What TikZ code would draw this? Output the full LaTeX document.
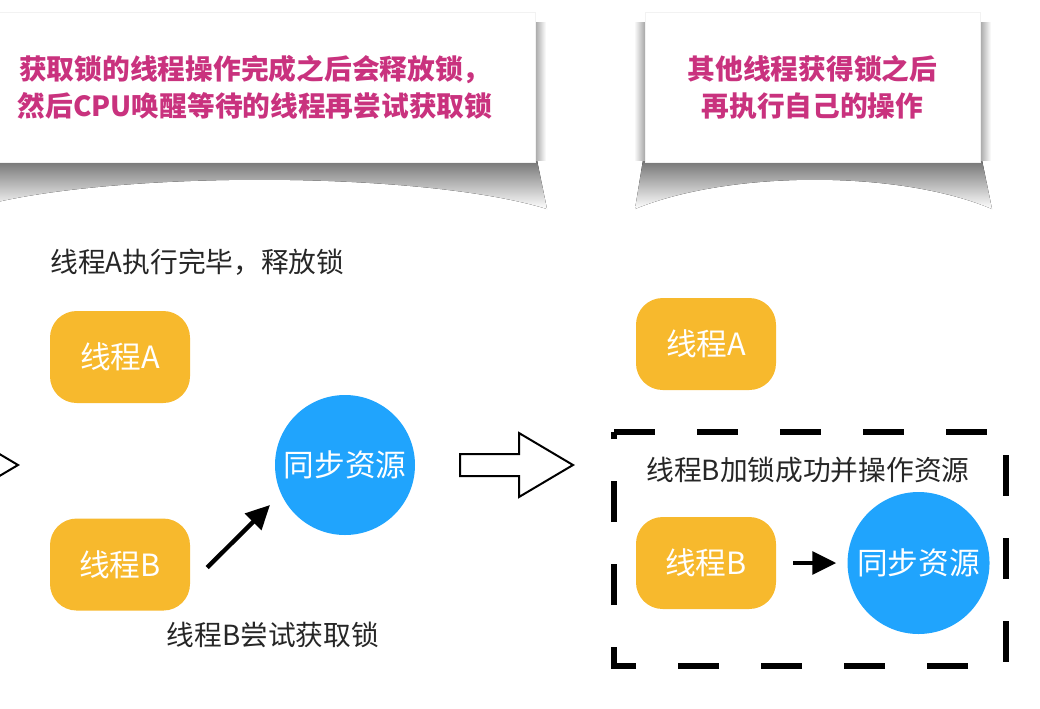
\documentclass[tikz,border=0pt]{standalone}
\usepackage{fontspec}
\setmainfont{Noto Sans CJK SC}
\usetikzlibrary{arrows.meta,positioning,calc}
\definecolor{LockOrange}{HTML}{F7B92D}
\definecolor{ResBlue}{HTML}{20A4FD}
\definecolor{NoteMagenta}{HTML}{C9327E}
\tikzset{
  threadbox/.style={rounded corners=20pt, fill=LockOrange, text=white, minimum width=105pt, minimum height=69pt, font=\fontsize{23}{26}\selectfont},
  resource/.style={circle, fill=ResBlue, text=white, minimum size=105pt, inner sep=0pt, font=\fontsize{23}{26}\selectfont},
  notebox/.style={fill=white, draw=black!5, line width=0.5pt, align=center, text=NoteMagenta, minimum height=112.5pt, font=\fontsize{20.8}{27.75}\selectfont\bfseries},
  plaintext/.style={text=black!85, inner sep=0pt, font=\fontsize{20.8}{24}\selectfont},
  arrow/.style={-{Triangle[length=18pt,width=17pt]}, line width=3.3pt, draw=black},
  hollowarrow/.style={draw=black, line width=1.5pt, fill=white, line join=miter},
  lockframe/.style={draw=black, line width=4.5pt, line join=miter, dash pattern=on 30.75pt off 31.5pt},
  papershadow/.style={top color=black!55, bottom color=white}
}

\begin{document}
\begin{tikzpicture}[x=0.75pt, y=-0.75pt]
\useasboundingbox (0,0) rectangle (1040,708);
\clip (0,0) rectangle (1040,708);

% paper shadows of the two notes
\fill[papershadow] (-25,160) -- (537,160) -- (547,209) .. controls (420,170) and (100,170) .. (-30,209) -- cycle;
\fill[left color=black!35, right color=white] (535,22) rectangle (546,160);
\fill[papershadow] (643,160) -- (982,160) -- (992,209) .. controls (900,170) and (730,170) .. (635,209) -- cycle;
\fill[left color=white, right color=black!35] (634,22) rectangle (645,160);
\fill[left color=black!35, right color=white] (980,22) rectangle (991,160);

\node[notebox, minimum width=420pt] (noteL) at (255,87) {获取锁的线程操作完成之后会释放锁，\\然后CPU唤醒等待的线程再尝试获取锁};
\node[notebox, minimum width=251.25pt] (noteR) at (812.5,87) {其他线程获得锁之后\\再执行自己的操作};

% left state
\node[plaintext, anchor=west] (relA) at (50,262) {线程A执行完毕，释放锁};
\node[threadbox] (thAL) at (120,357) {线程A};
\node[threadbox, below=86.25pt of thAL] (thBL) {线程B};
\node[resource] (resL) at (345,465) {同步资源};
\node[plaintext] (tryB) at (273,635) {线程B尝试获取锁};

\draw[arrow] ([shift={(17,3)}]thBL.east) -- ([shift={(-75,40)}]resL.center);

% transition arrows
\foreach \dx in {-555,0}
  \draw[hollowarrow, shift={(\dx,0)}] (460,454) -- (519,454) -- (519,433) -- (573,465) -- (519,497) -- (519,476) -- (460,476) -- cycle;

% right state
\node[threadbox] (thAR) at (706,344) {线程A};
\draw[lockframe] (614,432) -- (1006,432) -- (1006,666) -- (614,666) -- cycle;
\node[plaintext] (lockB) at (808,470) {线程B加锁成功并操作资源};
\node[threadbox] (thBR) at (706,563) {线程B};
\node[resource, minimum size=106.5pt, right=53.25pt of thBR] (resR) {同步资源};

\draw[arrow, shorten <=12.75pt, shorten >=8.25pt] (thBR) -- (resR);
\end{tikzpicture}
\end{document}
